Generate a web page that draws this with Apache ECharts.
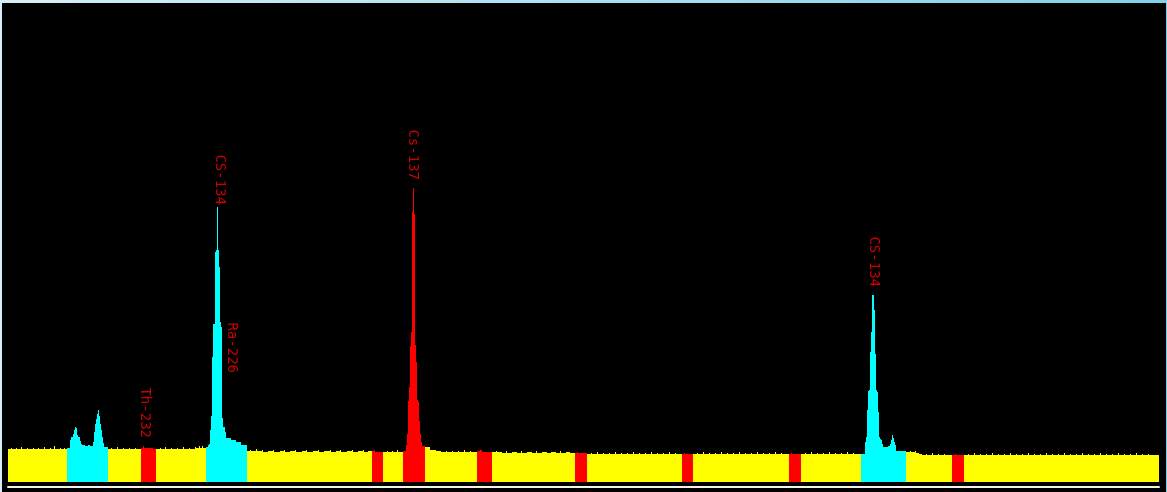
<!DOCTYPE html>
<html>
<head>
<meta charset="utf-8">
<script src="https://cdn.jsdelivr.net/npm/echarts@6/dist/echarts.min.js"></script>
<style>
html,body{margin:0;padding:0;width:1167px;height:492px;overflow:hidden;}
body{background:linear-gradient(to right,#d6eff7,#7fd1ea);position:relative;}
#chart{position:absolute;left:2px;top:3px;width:1164px;height:489px;background:#000;}
</style>
</head>
<body>
<div id="chart"></div>
<script>
// Spectrum: [channel, counts]; each count holds until the next channel entry
const base1 = [[8,33],[11,34],[12,33],[16,34],[17,33],[21,35],[22,33],[27,34],[28,33],[33,34],[34,33],[38,34],[39,33],[44,35],[45,33],[50,34],[51,33],[54,36],[55,33],[60,34],[61,33],[64,34],[65,33]];
const roiA = [[67,34],[70,42],[71,45],[73,48],[74,52],[75,55],[76,54],[77,47],[78,45],[80,41],[81,38],[82,37],[85,36],[88,37],[90,36],[93,40],[94,50],[95,58],[96,63],[97,68],[98,72],[99,66],[100,58],[101,52],[102,45],[103,39],[104,35]];
const base2 = [[108,33],[111,34],[112,33],[117,35],[118,33],[123,34],[124,33],[129,34],[130,33],[135,34],[136,33]];
const roiTh = [[141,34],[143,36],[144,34],[150,34],[153,33]];
const base3 = [[156,33],[160,34],[161,33],[165,35],[166,33],[171,34],[172,33],[177,34],[178,33],[183,35],[184,33],[189,34],[190,33],[195,35],[196,34],[199,36],[200,34],[202,36],[203,34]];
const roiCs134a = [[206,35],[208,37],[209,38],[210,52],[211,66],[212,125],[213,158],[215,230],[216,232],[217,275],[218,232],[219,215],[220,160],[221,155],[222,64],[223,55],[225,50],[226,44],[231,42],[236,40],[241,37]];
const base4 = [[247,31],[250,32],[251,31],[256,33],[257,31],[262,32],[263,30],[268,31],[273,32],[274,30],[280,31],[284,32],[285,30],[290,31],[295,32],[296,30],[302,31],[306,32],[307,30],[313,31],[318,32],[319,30],[324,31],[330,32],[331,30],[336,31],[340,32],[341,30],[347,31],[352,32],[353,30],[358,31],[363,32],[364,30],[368,31]];
const roiB = [[372,31],[374,32],[375,30],[380,30]];
const base5 = [[383,30],[387,31],[388,30],[392,31],[393,30],[397,32],[398,30]];
const roiCs137 = [[403,31],[406,37],[407,48],[408,81],[409,95],[410,136],[411,150],[412,270],[413,294],[414,268],[415,137],[416,120],[417,82],[418,80],[419,61],[420,48],[421,40],[422,36]];
const base6 = [[425,35],[430,32],[436,31],[441,30],[446,31],[447,30],[452,31],[453,30],[458,31],[459,30],[464,32],[465,30],[470,31],[471,30]];
const roiC = [[477,31],[480,32],[482,30],[488,30]];
const base7 = [[492,30],[496,31],[497,30],[502,29],[506,31],[507,29],[512,30],[517,29],[521,31],[522,29],[527,30],[532,29],[536,31],[537,29],[542,30],[547,29],[551,30],[556,29],[560,31],[561,29],[566,30],[570,29]];
const roiD = [[575,29],[577,30],[578,29],[583,29]];
const base8 = [[587,28],[591,29],[592,28],[597,30],[598,28],[603,29],[604,28],[609,29],[610,28],[615,30],[616,28],[621,29],[622,28],[627,29],[628,28],[633,30],[634,28],[639,29],[640,28],[645,29],[646,28],[651,30],[652,28],[657,29],[658,28],[663,29],[664,28],[669,30],[670,28],[675,29],[676,28]];
const roiE = [[682,28],[684,29],[685,28],[688,28]];
const base9 = [[693,28],[697,29],[698,28],[703,30],[704,28],[709,29],[710,28],[715,29],[716,28],[721,30],[722,28],[727,29],[728,28],[733,29],[734,28],[739,30],[740,28],[745,29],[746,28],[751,29],[752,28],[757,30],[758,28],[763,29],[764,28],[769,29],[770,28],[775,30],[776,28],[781,29],[782,28]];
const roiF = [[789,28],[791,29],[792,28],[794,28]];
const base10 = [[801,28],[805,29],[806,28],[811,30],[812,28],[817,29],[818,28],[823,29],[824,28],[829,30],[830,28],[835,29],[836,28],[841,29],[842,28],[847,30],[848,28],[853,29],[854,28]];
const roiCs134b = [[861,28],[865,40],[866,45],[867,72],[868,91],[869,92],[870,130],[871,150],[872,187],[874,172],[875,128],[876,92],[877,90],[878,70],[879,45],[880,43],[881,42],[882,38],[883,35],[888,36],[890,38],[891,42],[892,47],[893,44],[894,40],[895,37],[896,31]];
const base11 = [[906,30],[910,31],[911,30],[915,31],[916,29],[919,28],[922,27],[926,28],[927,27],[932,29],[933,27],[938,28],[939,27],[944,28],[945,27]];
const roiG = [[952,27],[955,28],[956,27],[958,27]];
const base12 = [[964,27],[968,28],[969,27],[974,29],[975,27],[980,28],[981,27],[986,28],[987,27],[992,29],[993,27],[998,28],[999,27],[1004,28],[1005,27],[1010,29],[1011,27],[1016,28],[1017,27],[1022,28],[1023,27],[1028,29],[1029,27],[1034,28],[1035,27],[1040,28],[1041,27],[1046,29],[1047,27],[1052,28],[1053,27],[1058,28],[1059,27],[1064,29],[1065,27],[1070,28],[1071,27],[1076,28],[1077,27],[1082,29],[1083,27],[1088,28],[1089,27],[1094,28],[1095,27],[1100,29],[1101,27],[1106,28],[1107,27],[1112,28],[1113,27],[1118,29],[1119,27],[1124,28],[1125,27],[1130,28],[1131,27],[1136,29],[1137,27],[1142,28],[1143,27],[1148,28],[1149,27]];

// Regions of interest (channel ranges) and their kind
const roiStart = [67, 141, 206, 372, 403, 477, 575, 682, 789, 861, 952];
const roiEnd   = [108, 156, 247, 383, 425, 492, 587, 693, 801, 906, 964];
const roiKind  = ['id', 'other', 'id', 'other', 'other', 'other', 'other', 'other', 'other', 'id', 'other'];

// Peak labels
const labelNames = ['Th-232', 'CS-134', 'Ra-226', 'Cs-137', 'CS-134'];
const labelX = [145, 220, 232, 413, 874];
const labelY = [44, 277, 109, 302, 195];

const channelMin = 8, channelMax = 1159;

const spectrum = [].concat(base1, roiA, base2, roiTh, base3, roiCs134a, base4, roiB, base5, roiCs137,
  base6, roiC, base7, roiD, base8, roiE, base9, roiF, base10, roiCs134b, base11, roiG, base12);

const kindColor = { id: '#00ffff', other: '#ff0000' };
const baseColor = '#ffff00';
function colorAt(ch) {
  for (let i = 0; i < roiStart.length; i++) {
    if (ch >= roiStart[i] && ch < roiEnd[i]) return kindColor[roiKind[i]];
  }
  return baseColor;
}
// bins: [startChannel, endChannel, counts]
const bins = spectrum.map((p, i) => {
  const next = i + 1 < spectrum.length ? spectrum[i + 1][0] : channelMax;
  return [p[0], next, p[1]];
});

const chart = echarts.init(document.getElementById('chart'), null, { renderer: 'canvas' });
chart.setOption({
  backgroundColor: '#000',
  animation: false,
  grid: { left: 6, right: 7, top: 0, bottom: 10 },
  xAxis: {
    type: 'value', min: channelMin, max: channelMax, offset: 5,
    axisLine: { show: true, onZero: false, lineStyle: { color: '#f2f2ea', width: 2 } },
    axisTick: { show: false }, axisLabel: { show: false }, splitLine: { show: false }
  },
  yAxis: {
    type: 'value', min: 0, max: 479,
    axisLine: { show: false }, axisTick: { show: false }, axisLabel: { show: false }, splitLine: { show: false }
  },
  series: [
    {
      type: 'custom',
      data: bins,
      encode: { x: [0, 1], y: 2 },
      silent: true,
      renderItem: function (params, api) {
        const x0 = api.value(0), x1 = api.value(1), c = api.value(2);
        const pTop = api.coord([x0, c]);
        const pBot = api.coord([x1, 0]);
        return {
          type: 'rect',
          shape: { x: pTop[0], y: pTop[1], width: pBot[0] - pTop[0], height: pBot[1] - pTop[1] },
          style: { fill: colorAt(x0), stroke: null }
        };
      }
    },
    {
      type: 'scatter', symbolSize: 1,
      itemStyle: { color: 'rgba(0,0,0,0)' },
      data: labelNames.map((n, i) => ({ name: n, value: [labelX[i], labelY[i]] })),
      label: {
        show: true, formatter: '{b}', position: 'inside', distance: 0,
        rotate: -90, align: 'right', verticalAlign: 'middle',
        color: '#ff0000', fontFamily: 'DejaVu Sans Mono', fontSize: 14
      },
      silent: true
    }
  ]
});
</script>
</body>
</html>
